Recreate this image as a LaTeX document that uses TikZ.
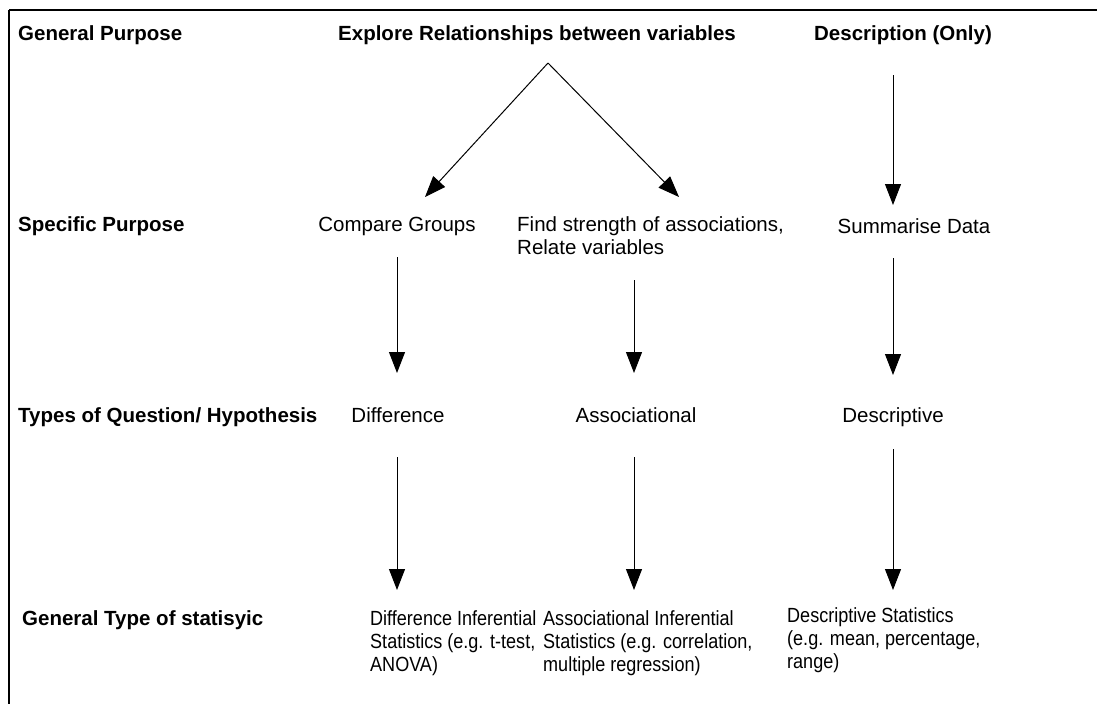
\documentclass[tikz,border=0pt]{standalone}
\usepackage{fontspec}
\setmainfont{Liberation Sans}
\newfontfamily\narrowsans[FakeStretch=0.88]{Liberation Sans}
\usetikzlibrary{arrows.meta}
\begin{document}
\begin{tikzpicture}[x=1pt,y=-1pt,
  txt/.style={inner sep=0pt,font=\fontsize{20.5}{23}\selectfont},
  hdr/.style={txt,font=\fontsize{20.5}{23}\selectfont\bfseries,anchor=base west},
  multi/.style={txt,align=left,anchor=base west},
  small/.style={multi,font=\narrowsans\fontsize{20.5}{23}\selectfont},
  arr/.style={line width=1pt,-{Triangle[length=21pt,width=16pt]}}]
  % canvas and frame
  \path[fill=white] (0,0) rectangle (1097,704);
  \useasboundingbox (0,0) rectangle (1097,704);
  \draw[line width=1.2pt] (9,10) -- (1097,10);
  \draw[line width=2.2pt] (9,10) -- (9,704);

  % row headings
  \node[hdr] (hgp) at (18,40) {General Purpose};
  \node[hdr] (hsp) at (18,231) {Specific Purpose};
  \node[hdr] (hty) at (18,422) {Types of Question/ Hypothesis};
  \node[hdr] (hgt) at (22,625) {General Type of statisyic};

  % general purpose
  \node[txt,font=\fontsize{20.5}{23}\selectfont\bfseries,anchor=base] (exp) at (537,40) {Explore Relationships between variables};
  \node[txt,font=\fontsize{20.5}{23}\selectfont\bfseries,anchor=base] (desc) at (903,40) {Description (Only)};

  % specific purpose (multi-line nodes sit on the baseline of their last line)
  \node[txt,anchor=base] (cmp) at (397,231) {Compare Groups};
  \node[multi] (fs) at (517,254) {Find strength of associations,\\Relate variables};
  \node[txt,anchor=base] (sum) at (914,233) {Summarise Data};

  % question types
  \node[txt,anchor=base] (dif) at (398,422) {Difference};
  \node[txt,anchor=base] (asc) at (636,422) {Associational};
  \node[txt,anchor=base] (dsc) at (893,422) {Descriptive};

  % statistics
  \node[small] (dis) at (370,671) {Difference Inferential\\Statistics (e.g. t-test,\\ANOVA)};
  \node[small] (ais) at (543,671) {Associational Inferential\\Statistics (e.g. correlation,\\multiple regression)};
  \node[small] (dss) at (787,668) {Descriptive Statistics\\(e.g. mean, percentage,\\range)};

  % connectors
  \coordinate (apex) at ([xshift=11pt,yshift=-23pt]exp.base);
  \draw[arr] (apex) -- ([xshift=28pt,yshift=34pt]cmp.base);
  \draw[arr] (apex) -- ([xshift=162pt,yshift=57pt]fs.base west);
  \draw[arr] ([xshift=-10pt,yshift=-35pt]desc.base) -- ([xshift=-21pt,yshift=28pt]sum.base);

  \draw[arr] ([yshift=-26pt]cmp.base) -- ([xshift=-1pt,yshift=49pt]dif.base);
  \draw[arr] ([xshift=117pt,yshift=-26pt]fs.base west) -- ([xshift=-2pt,yshift=49pt]asc.base);
  \draw[arr] ([xshift=-21pt,yshift=-25pt]sum.base) -- ([yshift=47pt]dsc.base);

  \draw[arr] ([xshift=-1pt,yshift=-35pt]dif.base) -- ([xshift=27pt,yshift=81pt]dis.base west);
  \draw[arr] ([xshift=-2pt,yshift=-35pt]asc.base) -- ([xshift=91pt,yshift=81pt]ais.base west);
  \draw[arr] ([yshift=-27pt]dsc.base) -- ([xshift=106pt,yshift=78pt]dss.base west);
\end{tikzpicture}
\end{document}
